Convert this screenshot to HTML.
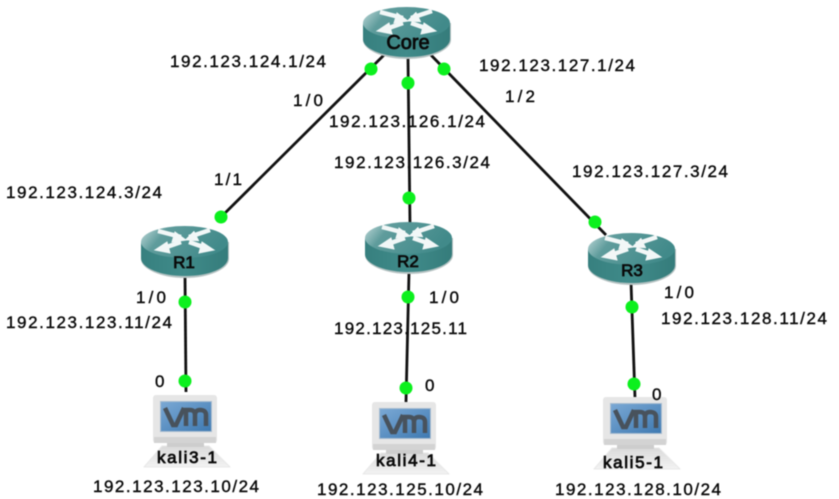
<!DOCTYPE html>
<html><head><meta charset="utf-8"><style>
html,body{margin:0;padding:0;background:#fff}
svg{display:block}
text{font-family:"Liberation Sans",sans-serif;fill:#0a0a0a;font-size:17px;stroke:#0a0a0a;stroke-width:.4}
.n{font-size:17px;text-anchor:middle;stroke-width:.8}
.c{font-size:20px}
#all{filter:blur(.45px)}
</style></head><body>
<svg width="839" height="499" viewBox="0 0 839 499" xmlns="http://www.w3.org/2000/svg">
<defs>
<linearGradient id="top" x1="0" x2="1" y1="0" y2="0.3"><stop offset="0" stop-color="#c4dcdc"/><stop offset=".3" stop-color="#5f9c9c"/><stop offset="1" stop-color="#418a8a"/></linearGradient>
<linearGradient id="side" x1="0" x2="1"><stop offset="0" stop-color="#37807f"/><stop offset=".5" stop-color="#408b8a"/><stop offset="1" stop-color="#357c7b"/></linearGradient>
<linearGradient id="scr" x1="0" x2="1" y1="0" y2="1"><stop offset="0" stop-color="#7aa8d4"/><stop offset="1" stop-color="#3f7ab2"/></linearGradient>
<linearGradient id="base" x1="0" x2="0" y1="0" y2="1"><stop offset="0" stop-color="#dadada"/><stop offset="1" stop-color="#f3f3f3"/></linearGradient>
<g id="router">
<path d="M0 17V34C0 44 20 53 44 53S88 44 88 34V17Z" fill="#b5c2c2"/>
<path d="M0 17V33C0 43 20 51 44 51S87 43 87 33V17Z" fill="url(#side)"/>
<ellipse cx="43.500" cy="17" rx="43.500" ry="16" fill="url(#top)"/>
<g fill="#f2f7f7" stroke="#f2f7f7">
<path d="M17 6L40 12" stroke-width="4.500" fill="none"/><path d="M34 7L45 15L31 17Z"/>
<path d="M69 5L48 12" stroke-width="4.500" fill="none"/><path d="M53 6L44 15L58 16Z" stroke-width=".5"/>
<path d="M40 17L20 24" stroke-width="4.500" fill="none"/><path d="M14 25L26 17L29 28Z"/>
<path d="M48 17L68 24" stroke-width="4.500" fill="none"/><path d="M73 25L61 17L58 28Z"/>
</g>
</g>
<g id="pc">
<path d="M9 51H56L77 72H-9Z" fill="url(#base)" stroke="#e8e8e8" stroke-linejoin="round"/>
<rect x="14" y="47" width="37" height="5" fill="#cdcdcd"/>
<rect x="0" y="0" width="64" height="48" rx="3" fill="#e6e6e6"/>
<rect x="1" y="42" width="62" height="6" fill="#d3d3d3"/>
<rect x="7" y="6" width="52" height="31" fill="#a9bdd0"/>
<rect x="8" y="7" width="50" height="29" fill="url(#scr)"/>
<path d="M12 13L20 30H23L31 13" fill="none" stroke="#48525c" stroke-width="4.500"/>
<path d="M33 31V15H37Q42 15 42 20V31M42 20Q42 15 47 15Q53 15 53 20V31" fill="none" stroke="#48525c" stroke-width="4.500"/>
</g>
</defs>
<rect width="839" height="499" fill="#fff"/>
<g id="all">
<g stroke="#111" stroke-width="2.800" fill="none">
<line x1="384" y1="55" x2="221" y2="217"/>
<line x1="408" y1="58" x2="410" y2="225"/>
<line x1="428" y1="52" x2="606" y2="235"/>
<line x1="185" y1="275" x2="186" y2="392"/>
<line x1="409" y1="272" x2="406" y2="402"/>
<line x1="631" y1="282" x2="635" y2="398"/>
</g>
<use href="#router" x="363" y="6"/>
<use href="#router" x="141" y="225"/>
<use href="#router" x="365" y="221"/>
<use href="#router" x="588" y="232"/>
<use href="#pc" x="153" y="395"/>
<use href="#pc" x="372" y="402"/>
<use href="#pc" x="603" y="397"/>
<g fill="#0cf01e">
<circle cx="371" cy="69" r="6.500"/><circle cx="408" cy="83" r="6.500"/><circle cx="444" cy="69" r="6.500"/>
<circle cx="221" cy="217" r="6.500"/><circle cx="409" cy="198" r="6.500"/><circle cx="595" cy="222" r="6.500"/>
<circle cx="185" cy="302" r="6.500"/><circle cx="408" cy="297" r="6.500"/><circle cx="632" cy="307" r="6.500"/>
<circle cx="185" cy="381" r="6.500"/><circle cx="406" cy="388" r="6.500"/><circle cx="634" cy="384" r="6.500"/>
</g>
<text class="n c" x="408" y="49">Core</text>
<text class="n" x="184" y="268">R1</text>
<text class="n" x="408" y="267">R2</text>
<text class="n" x="632" y="276">R3</text>
<text class="n" x="187" y="463" textLength="60">kali3-1</text>
<text class="n" x="406" y="466" textLength="60">kali4-1</text>
<text class="n" x="633" y="468" textLength="60">kali5-1</text>
<text x="170" y="67" textLength="156">192.123.124.1/24</text>
<text x="479" y="71" textLength="156">192.123.127.1/24</text>
<text x="329" y="127" textLength="156">192.123.126.1/24</text>
<text x="334" y="168" textLength="156">192.123.126.3/24</text>
<text x="572" y="177" textLength="156">192.123.127.3/24</text>
<text x="6" y="198" textLength="156">192.123.124.3/24</text>
<text x="6" y="328" textLength="166">192.123.123.11/24</text>
<text x="334" y="334" textLength="133">192.123.125.11</text>
<text x="661" y="324" textLength="166">192.123.128.11/24</text>
<text x="93" y="492" textLength="166">192.123.123.10/24</text>
<text x="317" y="495" textLength="166">192.123.125.10/24</text>
<text x="555" y="495" textLength="166">192.123.128.10/24</text>
<text x="293" y="106" textLength="30">1/0</text>
<text x="505" y="102" textLength="30">1/2</text>
<text x="214" y="185" textLength="28">1/1</text>
<text x="136" y="303" textLength="30">1/0</text>
<text x="429" y="303" textLength="30">1/0</text>
<text x="664" y="298" textLength="30">1/0</text>
<text x="155" y="387">0</text>
<text x="425" y="391">0</text>
<text x="652" y="400">0</text>
</g>
</svg>
</body></html>
